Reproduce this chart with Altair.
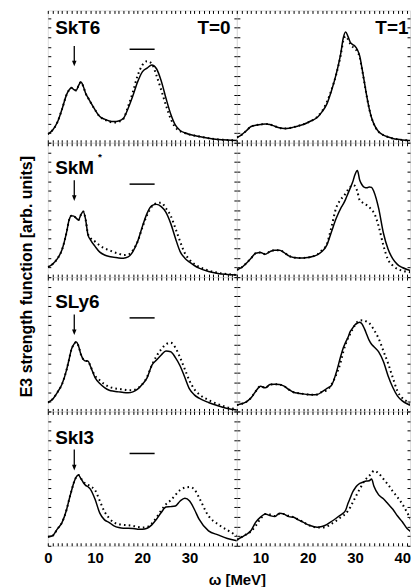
import altair as alt
import pandas as pd

FONT = "Liberation Sans"

# energy grids (MeV)
X_LEFT = [0, 1, 2, 3, 4, 4.5, 5, 5.5, 6, 6.5, 7, 7.5, 8, 8.5, 9, 10, 11, 12, 13, 14, 15, 16,
          17, 18, 19, 20, 21, 22, 23, 24, 25, 26, 27, 28, 29, 30, 31, 32, 34, 36, 38, 40]
X_RIGHT = [5, 6, 7, 8, 9, 10, 11, 12, 13, 14, 15, 16, 17, 18, 19, 20, 21, 22, 23, 24, 25, 26, 27,
           27.5, 28, 28.5, 29, 29.5, 30, 30.5, 31, 31.5, 32, 32.5, 33, 33.5, 34,
           35, 36, 37, 38, 39, 40, 41, 42, 43, 44]

MODELS = ["SkT6", "SkM", "SLy6", "SkI3"]

# T=0 (left column)
SKT6_T0_SOLID = [0.9, 1.31, 2.11, 3.49, 5.05, 5.5, 5.74, 5.55, 5.45, 5.95, 6.33, 5.9, 5.16, 4.7, 4.26, 3.43,
                 2.73, 2.46, 2.28, 2.21, 2.28, 2.56, 3.6, 4.9, 6.35, 7.4, 7.79, 8.1, 7.72, 6.44, 4.64, 3.0,
                 1.83, 1.28, 1.04, 0.87, 0.76, 0.66, 0.48, 0.35, 0.28, 0.24]
SKT6_T0_DOT = [0.9, 1.31, 2.11, 3.49, 5.05, 5.5, 5.74, 5.55, 5.45, 5.95, 6.33, 5.9, 5.16, 4.7, 4.26, 3.43,
               2.73, 2.42, 2.2, 2.1, 2.2, 2.5, 3.8, 5.3, 7.0, 8.1, 8.5, 8.25, 7.0, 5.5, 3.9, 2.5,
               1.6, 1.2, 1.0, 0.85, 0.75, 0.66, 0.48, 0.35, 0.28, 0.24]
SKM_T0_SOLID = [1.04, 1.35, 1.9, 2.84, 4.74, 5.95, 6.4, 6.35, 6.15, 5.95, 6.5, 6.85, 6.0, 4.4, 3.9, 3.2,
                2.6, 2.3, 2.15, 2.08, 2.0, 1.97, 2.1, 2.66, 3.7, 5.26, 6.64, 7.44, 7.58, 7.34, 6.75, 5.6,
                4.05, 2.66, 1.97, 1.56, 1.21, 0.93, 0.59, 0.38, 0.28, 0.21]
SKM_T0_DOT = [1.04, 1.35, 1.9, 2.84, 4.74, 5.95, 6.4, 6.35, 6.15, 5.95, 6.5, 6.85, 6.0, 4.5, 4.1, 3.7,
              3.3, 3.0, 2.8, 2.6, 2.45, 2.3, 2.35, 2.8, 3.7, 5.16, 6.47, 7.34, 7.7, 7.75, 7.16, 6.4,
              5.09, 3.7, 2.49, 1.8, 1.35, 1.07, 0.69, 0.45, 0.31, 0.21]
SLY6_T0_SOLID = [0.93, 1.28, 1.97, 2.84, 4.39, 5.43, 6.47, 6.99, 7.23, 6.82, 5.95, 5.43, 5.26, 5.26, 4.74, 3.53,
                 2.91, 2.49, 2.21, 2.11, 2.04, 1.97, 1.94, 2.04, 2.32, 2.84, 3.5, 4.8, 5.35, 5.88, 6.3, 6.23,
                 5.61, 4.74, 3.53, 2.32, 1.73, 1.38, 0.93, 0.59, 0.31, 0.14]
SLY6_T0_DOT = [0.93, 1.28, 1.97, 2.84, 4.39, 5.43, 6.47, 6.99, 7.23, 6.82, 5.95, 5.43, 5.26, 5.26, 4.74, 3.7,
               3.25, 2.84, 2.56, 2.42, 2.35, 2.28, 2.21, 2.21, 2.42, 2.84, 3.6, 4.8, 5.78, 6.47, 6.99, 7.16,
               6.64, 5.61, 4.39, 3.18, 2.32, 1.8, 1.18, 0.76, 0.42, 0.21]
SKI3_T0_SOLID = [0.93, 1.04, 1.73, 2.42, 3.81, 4.8, 5.71, 6.57, 7.16, 7.37, 7.0, 6.6, 6.3, 6.15, 5.9, 4.84,
                 3.4, 2.7, 2.42, 2.08, 1.9, 1.83, 1.83, 1.8, 1.73, 1.73, 1.83, 2.18, 2.77, 3.46, 4.05, 4.08,
                 4.15, 4.67, 4.95, 4.67, 3.81, 2.77, 1.56, 1.14, 0.76, 0.52]
SKI3_T0_DOT = [0.93, 1.04, 1.73, 2.42, 3.81, 4.8, 5.71, 6.57, 7.16, 7.37, 7.05, 6.7, 6.45, 6.35, 6.2, 5.8,
               4.67, 3.56, 2.86, 2.42, 2.25, 2.18, 2.15, 2.08, 1.97, 1.9, 1.97, 2.32, 2.94, 3.7, 4.33, 4.74,
               5.29, 5.81, 6.06, 6.12, 5.88, 5.02, 3.11, 2.25, 1.63, 1.04]

# T=1 (right column)
SKT6_T1_SOLID = [0.55, 0.83, 1.25, 1.7, 1.83, 1.9, 1.97, 1.9, 1.73, 1.56, 1.49, 1.52, 1.63, 1.76, 1.9, 2.11,
                 2.35, 2.63, 3.22, 4.0, 5.4, 7.13, 9.38, 10.9, 11.56, 11.1, 10.48, 10.24, 10.07, 9.7,
                 9.03, 7.7, 6.26, 4.8, 3.56, 2.6, 1.94, 1.14, 0.8, 0.6, 0.45, 0.36, 0.3, 0.26, 0.22, 0.19, 0.17]
SKT6_T1_DOT = [0.55, 0.83, 1.25, 1.7, 1.83, 1.9, 1.97, 1.9, 1.73, 1.56, 1.49, 1.52, 1.63, 1.76, 1.9, 2.11,
               2.35, 2.7, 3.3, 4.2, 5.5, 7.1, 9.2, 10.6, 11.1, 10.8, 10.3, 10.0, 9.8, 9.5,
               8.9, 7.6, 6.2, 4.8, 3.56, 2.6, 1.94, 1.14, 0.8, 0.6, 0.45, 0.36, 0.3, 0.26, 0.22, 0.19, 0.17]
SKM_T1_SOLID = [0.76, 1.0, 1.45, 1.97, 2.49, 2.56, 2.39, 2.66, 2.8, 2.8, 2.56, 2.21, 2.04, 2.0, 2.0, 2.04,
                2.15, 2.32, 2.66, 3.3, 4.7, 6.1, 7.2, 7.6, 8.1, 8.7, 9.3, 9.9, 10.7, 11.1,
                10.1, 9.6, 9.35, 9.3, 9.4, 9.35, 8.9, 7.16, 4.6, 2.9, 1.9, 1.3, 1.0, 0.8, 0.65, 0.52, 0.45]
SKM_T1_DOT = [0.76, 1.0, 1.45, 1.97, 2.49, 2.56, 2.39, 2.66, 2.8, 2.8, 2.56, 2.21, 2.04, 2.0, 2.0, 2.04,
              2.15, 2.35, 2.8, 3.4, 5.2, 7.2, 8.1, 8.4, 8.7, 9.1, 9.4, 9.58, 9.5, 8.9,
              8.0, 7.8, 7.6, 7.5, 7.3, 7.0, 6.7, 5.3, 3.3, 1.8, 1.2, 0.85, 0.66, 0.56, 0.48, 0.42, 0.38]
SLY6_T1_SOLID = [0.66, 0.8, 1.0, 1.42, 2.11, 2.63, 2.46, 2.8, 2.84, 2.8, 2.63, 2.28, 2.0, 1.9, 1.83, 1.76,
                 1.73, 1.76, 2.04, 2.39, 2.7, 4.0, 5.8, 6.6, 7.2, 7.7, 8.34, 8.7, 9.03, 9.2,
                 9.3, 9.1, 8.6, 8.0, 7.4, 7.0, 6.75, 6.2, 5.2, 3.7, 2.5, 1.6, 1.1, 0.8, 0.6, 0.48, 0.4]
SLY6_T1_DOT = [0.66, 0.8, 1.0, 1.42, 2.11, 2.63, 2.46, 2.8, 2.84, 2.8, 2.63, 2.28, 2.0, 1.9, 1.83, 1.76,
               1.73, 1.76, 2.04, 2.2, 2.8, 3.8, 5.2, 6.2, 7.0, 7.6, 8.1, 8.6, 9.0, 9.35,
               9.45, 9.5, 9.48, 9.35, 9.2, 8.9, 8.5, 7.6, 6.3, 5.0, 3.5, 2.1, 1.4, 1.05, 0.8, 0.6, 0.45]
SKI3_T1_SOLID = [0.62, 0.9, 1.18, 1.59, 2.46, 2.98, 3.32, 3.15, 3.04, 3.4, 3.3, 3.04, 2.98, 2.7, 2.46, 2.21,
                 2.04, 1.94, 2.01, 2.21, 2.53, 2.87, 3.22, 3.4, 3.7, 4.4, 5.0, 5.6, 6.0, 6.3,
                 6.5, 6.6, 6.7, 6.75, 6.78, 6.96, 6.2, 5.3, 4.9, 4.36, 3.8, 3.1, 2.5, 1.8, 1.4, 1.1, 0.97]
SKI3_T1_DOT = [0.62, 0.9, 1.18, 1.5, 2.1, 2.8, 3.3, 3.25, 3.1, 3.3, 3.3, 3.1, 2.98, 2.75, 2.5, 2.2,
               2.0, 1.9, 1.9, 2.0, 2.3, 2.6, 2.98, 3.15, 3.32, 3.65, 4.01, 4.5, 4.98, 5.45,
               5.92, 6.35, 6.78, 7.05, 7.3, 7.55, 7.82, 7.54, 6.96, 6.37, 5.67, 5.05, 4.36, 3.49, 2.63, 2.11, 1.87]

SOLID = [[SKT6_T0_SOLID, SKM_T0_SOLID, SLY6_T0_SOLID, SKI3_T0_SOLID],
         [SKT6_T1_SOLID, SKM_T1_SOLID, SLY6_T1_SOLID, SKI3_T1_SOLID]]
DOTTED = [[SKT6_T0_DOT, SKM_T0_DOT, SLY6_T0_DOT, SKI3_T0_DOT],
          [SKT6_T1_DOT, SKM_T1_DOT, SLY6_T1_DOT, SKI3_T1_DOT]]

# annotation values (data units)
LABEL_X = 1.55
LABEL_Y = [11.38, 10.79, 10.79, 10.65]
STAR_X = 10.6
STAR_Y = 12.2
T_TEXT = ["T=0", "T=1"]
T_X = [38.65, 41.3]
BAR_X = [17.3, 22.6]
BAR_Y = [9.75, 9.69, 9.75, 9.62]
ARROW_X = 5.6
ARROW_TOP = [10.1, 10.1, 10.1, 10.03]
ARROW_TIP = [7.96, 7.93, 7.95, 7.85]

WIDTHS = [190, 174]
X_DOMAIN = [[0, 40], [5, 5 + 174 / 4.75]]
X_TICKS = [list(range(0, 41)), list(range(5, 42))]
LABEL_EXPR = ["datum.value % 10 == 0 && datum.value < 40 ? datum.value : ''",
              "datum.value % 10 == 0 ? datum.value : ''"]
Y_TOP = [13.8, 14, 14, 14]
HEIGHTS = [133, 135, 135, 135]

HEAD = "M-0.8,-1L0.8,-1L0,1Z"


def cell(r, c):
    xs = X_LEFT if c == 0 else X_RIGHT
    df = pd.DataFrame({"x": xs, "solid": SOLID[c][r], "dotted": DOTTED[c][r]})
    xsc = alt.Scale(domain=X_DOMAIN[c], nice=False, zero=False)
    ysc = alt.Scale(domain=[0, Y_TOP[r]], nice=False, zero=False)
    yt = [v for v in range(0, 15) if v <= Y_TOP[r]]
    tick = dict(tickSize=3, offset=-3, domain=False, grid=False, tickColor="black", tickWidth=1)

    bkw = dict(orient="bottom", values=X_TICKS[c], labels=(r == 3), **tick)
    if r == 3:
        bkw.update(labelExpr=LABEL_EXPR[c], labelFlush=False, labelFont=FONT, labelFontSize=15,
                   labelFontWeight="bold", labelColor="black", labelPadding=4.5, labelOverlap=False)
    if r == 3 and c == 0:
        bkw.update(titleFont=FONT, titleFontSize=15, titleFontWeight="bold", titleColor="black",
                   titleX=190, titleY=42, titleAlign="center", titleBaseline="alphabetic")
        xtitle = "ω [MeV]"
    else:
        xtitle = None

    lkw = dict(orient="left", values=yt, labels=False, **tick)
    if r == 1 and c == 0:
        lkw.update(titleFont=FONT, titleFontSize=16, titleFontWeight="bold", titleColor="black",
                   titleX=-24.5, titleY=134, titleAlign="center", titleBaseline="middle", titleAngle=270)
        ytitle = "E3 strength function [arb. units]"
    else:
        ytitle = None

    base = alt.Chart(df)
    solid = base.mark_line(color="black", strokeWidth=1.5, interpolate="monotone", clip=True).encode(
        x=alt.X("x:Q", scale=xsc, axis=alt.Axis(**bkw), title=xtitle),
        y=alt.Y("solid:Q", scale=ysc, axis=alt.Axis(**lkw), title=ytitle),
    )
    dotted = base.mark_line(color="black", strokeWidth=2, strokeDash=[1.6, 3.2],
                            interpolate="monotone", clip=True).encode(
        x=alt.X("x:Q", scale=xsc, axis=alt.Axis(orient="top", values=X_TICKS[c], labels=False, **tick),
                title=None),
        y=alt.Y("dotted:Q", scale=ysc, axis=alt.Axis(orient="right", values=yt, labels=False, **tick),
                title=None),
    )
    layers = [solid, dotted]

    def X(field):
        return alt.X(field, scale=xsc, axis=None)

    def Y(field):
        return alt.Y(field, scale=ysc, axis=None)

    if c == 0:
        ann = pd.DataFrame({"bx": [BAR_X[0]], "bx2": [BAR_X[1]], "by": [BAR_Y[r]],
                            "ax": [ARROW_X], "atop": [ARROW_TOP[r]], "atip": [ARROW_TIP[r]],
                            "ahead": [ARROW_TIP[r] + 0.3],
                            "lx": [LABEL_X], "ly": [LABEL_Y[r]], "label": [MODELS[r]]})
        a = alt.Chart(ann)
        layers.append(a.mark_rule(color="black", strokeWidth=1.5).encode(
            x=X("bx:Q"), x2="bx2:Q", y=Y("by:Q")))
        layers.append(a.mark_rule(color="black", strokeWidth=1.3).encode(
            x=X("ax:Q"), y=Y("atop:Q"), y2="ahead:Q"))
        layers.append(a.mark_point(shape=HEAD, filled=True, color="black", size=32, opacity=1,
                                   strokeWidth=0).encode(x=X("ax:Q"), y=Y("ahead:Q")))
        layers.append(a.mark_text(font=FONT, fontSize=19, fontWeight="bold", color="black",
                                  align="left", baseline="alphabetic").encode(
            x=X("lx:Q"), y=Y("ly:Q"), text="label:N"))
        if r == 1:
            star = pd.DataFrame({"sx": [STAR_X], "sy": [STAR_Y], "s": ["*"]})
            layers.append(alt.Chart(star).mark_text(font=FONT, fontSize=10, fontWeight="bold",
                                                    color="black", align="left",
                                                    baseline="alphabetic").encode(
                x=X("sx:Q"), y=Y("sy:Q"), text="s:N"))
    if r == 0:
        tdf = pd.DataFrame({"tx": [T_X[c]], "ty": [LABEL_Y[0]], "t": [T_TEXT[c]]})
        layers.append(alt.Chart(tdf).mark_text(font=FONT, fontSize=19, fontWeight="bold", color="black",
                                               align="right", baseline="alphabetic", clip=True).encode(
            x=X("tx:Q"), y=Y("ty:Q"), text="t:N"))

    return alt.layer(*layers).resolve_axis(x="independent", y="independent").properties(
        width=WIDTHS[c], height=HEIGHTS[r])


cells = [cell(r, c) for r in range(4) for c in range(2)]
chart = alt.concat(*cells, columns=2, spacing=0, bounds="flush").properties(
    padding={"left": 9, "top": 0, "right": 0, "bottom": 0}
).configure_view(stroke="black", strokeWidth=1.2).configure(background="white")

chart.save("out.html", embed_options={"renderer": "svg", "actions": False})
